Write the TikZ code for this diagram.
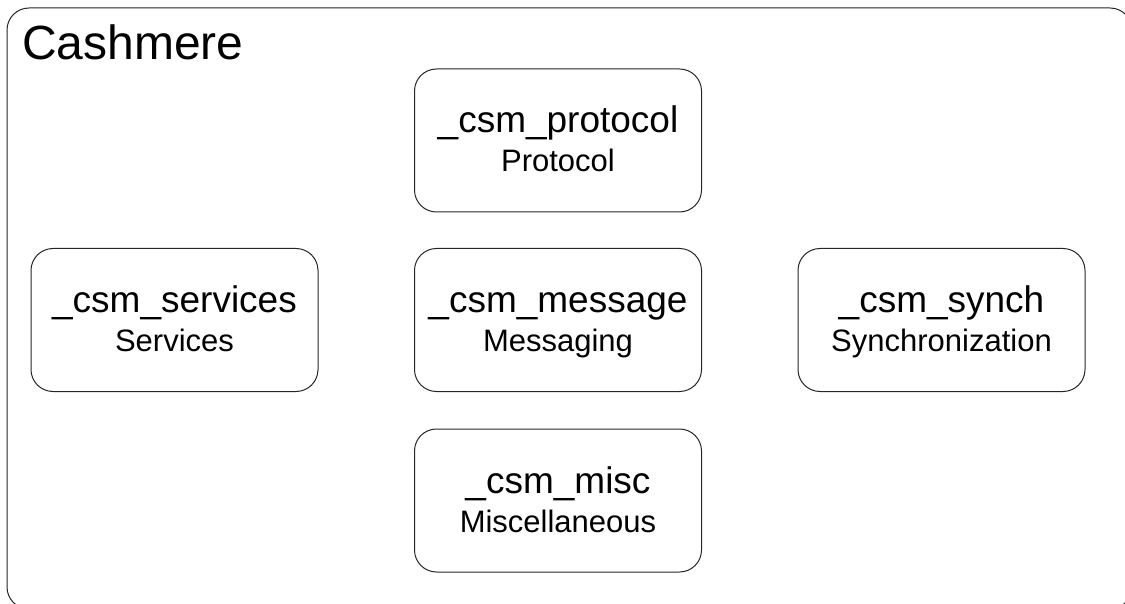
\documentclass[tikz,border=0pt]{standalone}
\usepackage{fontspec}
\setmainfont{Liberation Sans}
\usetikzlibrary{calc}
\tikzset{
  module/.style={draw=black!85, line width=1pt, rounded corners=22pt,
    minimum width=287pt, minimum height=143pt, inner sep=0pt},
  modname/.style={anchor=base, inner sep=0pt, font=\fontsize{37}{40}\selectfont},
  moddesc/.style={anchor=base, inner sep=0pt, font=\fontsize{31}{34}\selectfont},
}
\newcommand{\csmmodule}[4]{%
  \node[module] (#1) at (#2) {};
  \node[modname] (#1-name) at ($(#1.center)+(0,-7.5)$) {#3};
  \node[moddesc] (#1-desc) at ($(#1.center)+(0,31.5)$) {#4};
}
\begin{document}
\begin{tikzpicture}[x=1pt,y=-1pt]
\useasboundingbox (0,0) rectangle (1125,604);
\begin{scope}
  \clip (0,0) rectangle (1125,604);
  % package frame
  \draw[draw=black!85, line width=1pt, rounded corners=22pt] (7,8) rectangle (1132,609);
  \node[anchor=base west, inner sep=0pt, font=\fontsize{48}{52}\selectfont] (title) at (22,60) {Cashmere};
  % modules
  \csmmodule{protocol}{558,140.5}{\_csm\_protocol}{Protocol}
  \csmmodule{services}{174.5,320}{\_csm\_services}{Services}
  \csmmodule{message}{558,320}{\_csm\_message}{Messaging}
  \csmmodule{synch}{941.5,320}{\_csm\_synch}{Synchronization}
  \csmmodule{misc}{558,500.5}{\_csm\_misc}{Miscellaneous}
\end{scope}
\end{tikzpicture}
\end{document}
